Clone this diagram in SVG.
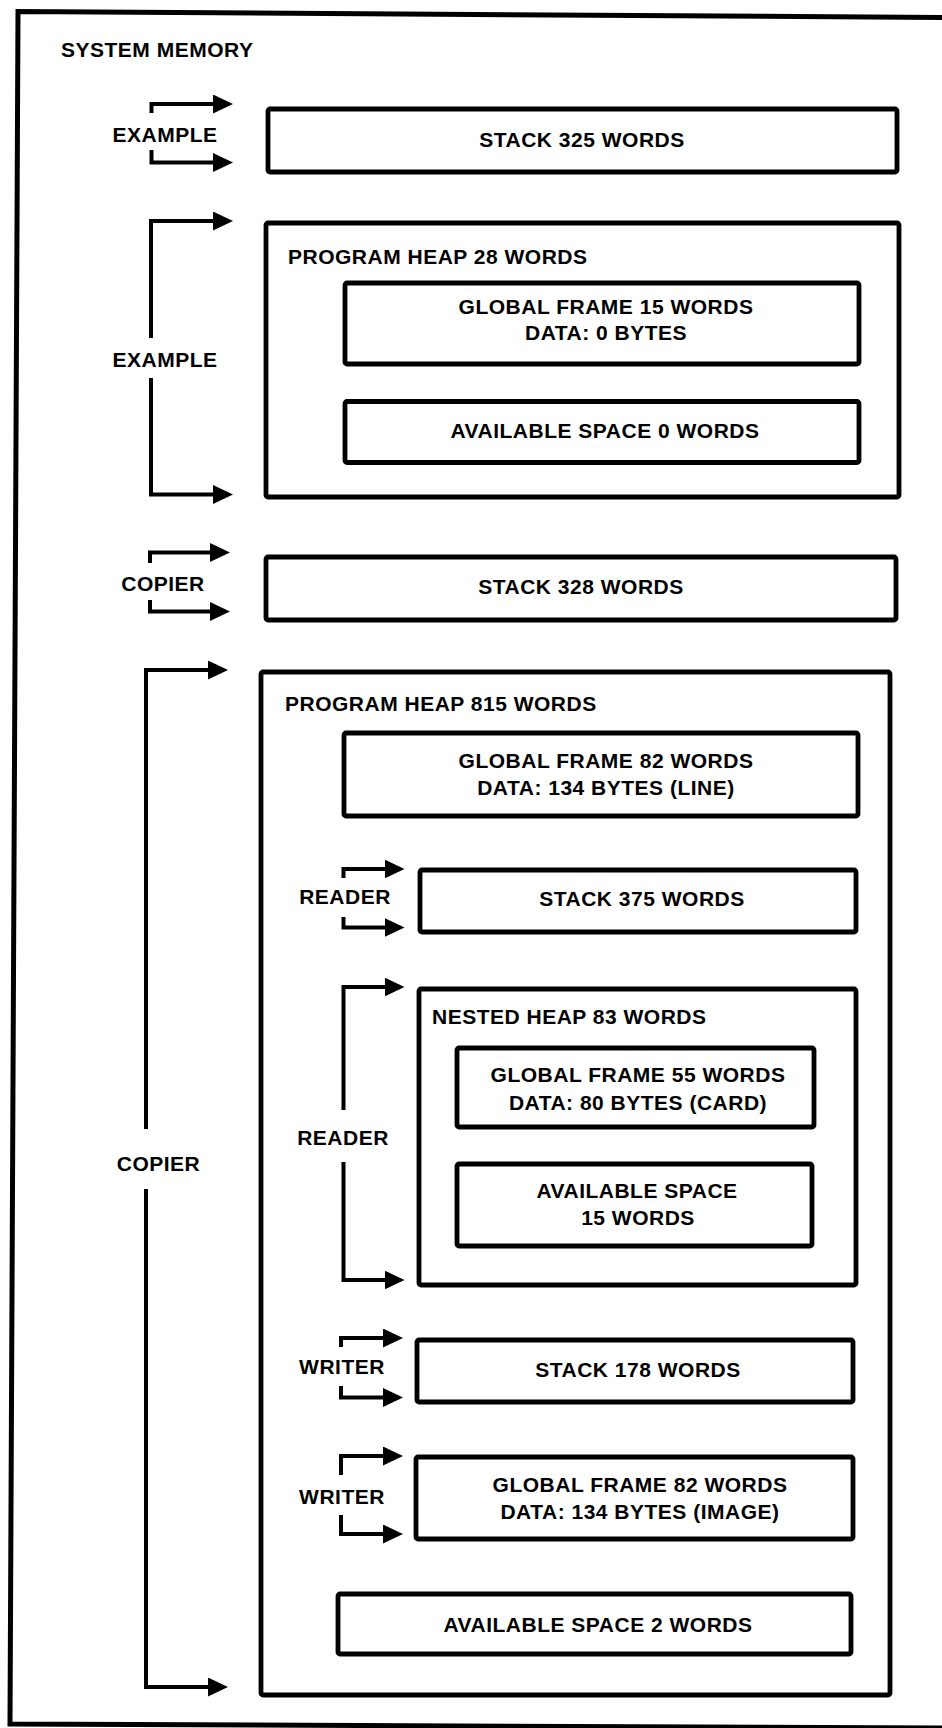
<svg xmlns="http://www.w3.org/2000/svg" width="942" height="1728" viewBox="0 0 942 1728">
<defs>
<marker id="ah" markerUnits="userSpaceOnUse" markerWidth="21" markerHeight="19" refX="9" refY="9.5" orient="auto" viewBox="0 0 21 19">
<path d="M0,0 L20,9.5 L0,19 z" fill="#000"/>
</marker>
<style>
.bx{fill:none;stroke:#000;stroke-width:4.8}
.fr{fill:none;stroke:#000;stroke-width:5}
.cn path{fill:none;stroke:#000;stroke-width:4;marker-end:url(#ah)}
text{font-family:"Liberation Sans",Arial,Helvetica,sans-serif;font-weight:bold;font-size:21px;letter-spacing:0.5px;fill:#000}
.c{text-anchor:middle}
</style>
</defs>
<rect width="942" height="1728" fill="#fff"/>
<g id="system-memory">
<path class="fr" d="M946,17.5 L18,11.5 L10,1724 L946,1728"/>
<text x="61" y="56.5">SYSTEM MEMORY</text>
</g>
<g id="example-stack">
<rect class="bx" x="268" y="109" width="629" height="63" rx="2"/>
<text class="c" x="582" y="146.5">STACK 325 WORDS</text>
</g>
<g id="example-heap">
<rect class="bx" x="266" y="223" width="633" height="274" rx="2"/>
<text x="288" y="263.5">PROGRAM HEAP 28 WORDS</text>
</g>
<g id="example-global-frame">
<rect class="bx" x="345" y="283" width="514" height="81" rx="2"/>
<text class="c" x="606" y="313.5">GLOBAL FRAME 15 WORDS</text>
<text class="c" x="606" y="340">DATA: 0 BYTES</text>
</g>
<g id="example-available">
<rect class="bx" x="345" y="401.5" width="514" height="61" rx="2"/>
<text class="c" x="605" y="438">AVAILABLE SPACE 0 WORDS</text>
</g>
<g id="copier-stack">
<rect class="bx" x="266" y="557" width="630" height="63" rx="2"/>
<text class="c" x="581" y="594">STACK 328 WORDS</text>
</g>
<g id="copier-heap">
<rect class="bx" x="261" y="672" width="629" height="1023" rx="2"/>
<text x="285" y="710.5">PROGRAM HEAP 815 WORDS</text>
</g>
<g id="copier-global-frame">
<rect class="bx" x="344" y="733" width="514" height="83" rx="2"/>
<text class="c" x="606" y="767.5">GLOBAL FRAME 82 WORDS</text>
<text class="c" x="606" y="794.5">DATA: 134 BYTES (LINE)</text>
</g>
<g id="reader-stack">
<rect class="bx" x="420" y="870" width="436" height="62" rx="2"/>
<text class="c" x="642" y="905.5">STACK 375 WORDS</text>
</g>
<g id="nested-heap">
<rect class="bx" x="419" y="989" width="437" height="296" rx="2"/>
<text x="432" y="1023.5">NESTED HEAP 83 WORDS</text>
</g>
<g id="reader-global-frame">
<rect class="bx" x="457" y="1048" width="357" height="79" rx="2"/>
<text class="c" x="638" y="1082">GLOBAL FRAME 55 WORDS</text>
<text class="c" x="638" y="1109.5">DATA: 80 BYTES (CARD)</text>
</g>
<g id="nested-available">
<rect class="bx" x="457" y="1164" width="355" height="82" rx="2"/>
<text class="c" x="637" y="1198">AVAILABLE SPACE</text>
<text class="c" x="638" y="1224.5">15 WORDS</text>
</g>
<g id="writer-stack">
<rect class="bx" x="417" y="1340" width="436" height="62" rx="2"/>
<text class="c" x="638" y="1376.5">STACK 178 WORDS</text>
</g>
<g id="writer-global-frame">
<rect class="bx" x="416" y="1457" width="437" height="82" rx="2"/>
<text class="c" x="640" y="1492">GLOBAL FRAME 82 WORDS</text>
<text class="c" x="640" y="1518.5">DATA: 134 BYTES (IMAGE)</text>
</g>
<g id="copier-available">
<rect class="bx" x="338" y="1594" width="513" height="60" rx="2"/>
<text class="c" x="598" y="1632">AVAILABLE SPACE 2 WORDS</text>
</g>
<g id="labels">
<text class="c" x="165" y="142">EXAMPLE</text>
<text class="c" x="165" y="366.5">EXAMPLE</text>
<text class="c" x="163" y="590.5">COPIER</text>
<text class="c" x="158.5" y="1171">COPIER</text>
<text class="c" x="345" y="903.5">READER</text>
<text class="c" x="343" y="1145">READER</text>
<text class="c" x="342" y="1373.5">WRITER</text>
<text class="c" x="342" y="1503.5">WRITER</text>
</g>
<g id="connectors" class="cn">
<path d="M151.5,113 V104 H222"/>
<path d="M151.5,150 V162.5 H222"/>
<path d="M151,338 V221 H222"/>
<path d="M151,378 V494.5 H222"/>
<path d="M150,563 V552.5 H219"/>
<path d="M150,600 V611.5 H219"/>
<path d="M146,1129 V670 H217"/>
<path d="M146,1189 V1687 H217"/>
<path d="M343.5,878 V869 H393.5"/>
<path d="M343.5,917 V927.5 H393.5"/>
<path d="M343.5,1110 V987 H393.5"/>
<path d="M343.5,1162 V1280 H393.5"/>
<path d="M341,1347 V1338 H392"/>
<path d="M341,1386 V1397.5 H392"/>
<path d="M341,1475 V1456 H392"/>
<path d="M341,1515 V1534 H392"/>
</g>
</svg>
